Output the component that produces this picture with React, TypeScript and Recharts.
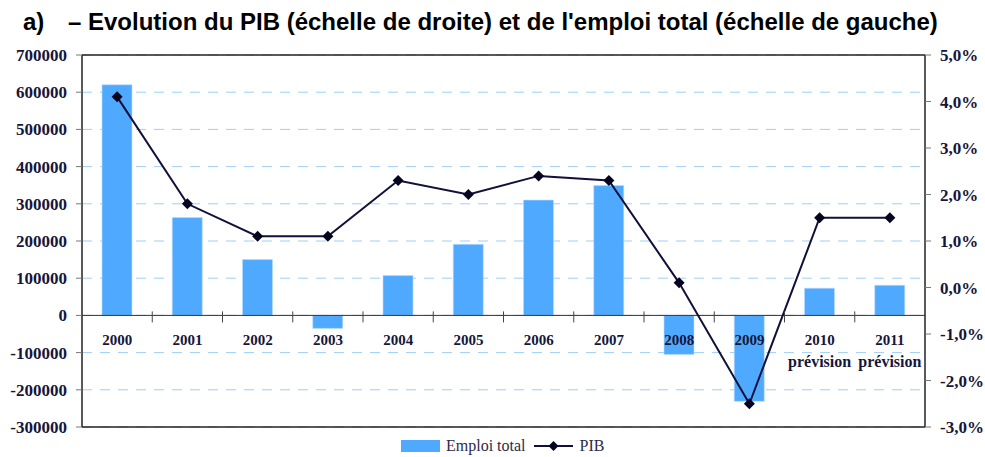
import React from "react"
import {
  ComposedChart,
  Bar,
  Line,
  XAxis,
  YAxis,
  CartesianGrid,
  ReferenceLine,
} from "recharts"

const years = ["2000", "2001", "2002", "2003", "2004", "2005", "2006", "2007", "2008", "2009", "2010", "2011"]
const emploiTotal = [620000, 263000, 150000, -35000, 107000, 191000, 310000, 349000, -105000, -231000, 73000, 81000]
const pib = [4.1, 1.8, 1.1, 1.1, 2.3, 2.0, 2.4, 2.3, 0.1, -2.5, 1.5, 1.5]
const forecastYears = ["2010", "2011"]
const leftTicks = [-300000, -200000, -100000, 0, 100000, 200000, 300000, 400000, 500000, 600000, 700000]
const rightTicks = [-3, -2, -1, 0, 1, 2, 3, 4, 5]

const data = years.map((year, i) => ({ year, emploi: emploiTotal[i], pib: pib[i] }))

const WIDTH = 985
const HEIGHT = 457
const PLOT_TOP = 55
const PLOT_LEFT = 82
const PLOT_RIGHT = 925
const PLOT_BOTTOM = 427
const BAND = (PLOT_RIGHT - PLOT_LEFT) / years.length
// y of the zero line, from the left axis domain
const ZERO_Y = PLOT_TOP + (PLOT_BOTTOM - PLOT_TOP) * (700000 / 1000000)

const INK = "#16163a"
const SERIF = "'Liberation Serif', 'Times New Roman', serif"

const YearTick = (props: any) => {
  const { x, payload, index } = props
  return (
    <g>
      {index > 0 && (
        <line x1={x - BAND / 2} x2={x - BAND / 2} y1={ZERO_Y - 4} y2={ZERO_Y + 7} stroke="#444" strokeWidth={1} />
      )}
      <text x={x} y={ZERO_Y + 30} textAnchor="middle" fontFamily={SERIF} fontWeight="bold" fontSize={15} fill={INK}>
        {payload.value}
      </text>
      {forecastYears.includes(payload.value) && (
        <text x={x} y={ZERO_Y + 52} textAnchor="middle" fontFamily={SERIF} fontWeight="bold" fontSize={16} fill={INK}>
          prévision
        </text>
      )}
    </g>
  )
}

const LeftTick = (props: any) => {
  const { x, y, payload } = props
  return (
    <text x={x} y={y} dy={6} textAnchor="end" fontFamily={SERIF} fontWeight="bold" fontSize={17} fill={INK}>
      {payload.value}
    </text>
  )
}

const RightTick = (props: any) => {
  const { x, y, payload } = props
  const label = `${Number(payload.value).toFixed(1).replace(".", ",")}%`
  return (
    <text x={x} y={y} dy={6} textAnchor="start" fontFamily={SERIF} fontWeight="bold" fontSize={17} fill={INK}>
      {label}
    </text>
  )
}

const Diamond = (props: any) => {
  const { cx, cy } = props
  if (cx == null || cy == null) return null
  const r = 5.5
  return (
    <polygon
      points={`${cx},${cy - r} ${cx + r},${cy} ${cx},${cy + r} ${cx - r},${cy}`}
      fill="#050520"
    />
  )
}

export default function App() {
  return (
    <div style={{ position: "absolute", left: 0, top: 0, width: WIDTH, height: HEIGHT, background: "#fff" }}>
      <div
        style={{
          position: "absolute",
          top: 8,
          left: 0,
          fontFamily: "'Liberation Sans', Arial, sans-serif",
          fontWeight: "bold",
          fontSize: 24,
          color: "#000",
          whiteSpace: "nowrap",
        }}
      >
        <span style={{ position: "absolute", left: 23 }}>a)</span>
        <span style={{ position: "absolute", left: 68 }}>
          – Evolution du PIB (échelle de droite) et de l'emploi total (échelle de gauche)
        </span>
      </div>

      <div style={{ position: "absolute", left: 0, top: 0 }}>
        <ComposedChart
          width={WIDTH}
          height={HEIGHT}
          data={data}
          margin={{ top: PLOT_TOP, right: 0, left: 0, bottom: 0 }}
          barSize={30}
        >
          <CartesianGrid vertical={false} stroke="#9fcff7" strokeDasharray="10 8" yAxisId="left" />
          <XAxis
            dataKey="year"
            height={HEIGHT - PLOT_BOTTOM}
            interval={0}
            axisLine={{ stroke: "#222", strokeWidth: 1.5 }}
            tickLine={false}
            tick={<YearTick />}
          />
          <YAxis
            yAxisId="left"
            width={PLOT_LEFT}
            domain={[-300000, 700000]}
            ticks={leftTicks}
            interval={0}
            axisLine={{ stroke: "#222", strokeWidth: 1.5 }}
            tickLine={{ stroke: "#777" }}
            tickSize={6}
            tickMargin={9}
            tick={<LeftTick />}
          />
          <YAxis
            yAxisId="right"
            orientation="right"
            width={WIDTH - PLOT_RIGHT}
            domain={[-3, 5]}
            ticks={rightTicks}
            interval={0}
            axisLine={{ stroke: "#222", strokeWidth: 1.5 }}
            tickLine={{ stroke: "#777" }}
            tickSize={6}
            tickMargin={9}
            tick={<RightTick />}
          />
          <Bar yAxisId="left" dataKey="emploi" name="Emploi total" fill="#4faaff" stroke="#b9dcff" strokeWidth={0.6} isAnimationActive={false} />
          <ReferenceLine yAxisId="left" y={0} stroke="#333" strokeWidth={1} />
          <ReferenceLine yAxisId="left" y={700000} stroke="#222" strokeWidth={1.5} />
          <Line
            yAxisId="right"
            type="linear"
            dataKey="pib"
            name="PIB"
            stroke="#10103a"
            strokeWidth={2}
            dot={<Diamond />}
            activeDot={false}
            isAnimationActive={false}
          />
        </ComposedChart>
      </div>

      <div
        style={{
          position: "absolute",
          top: 437,
          left: 401,
          display: "flex",
          alignItems: "center",
          fontFamily: SERIF,
          fontSize: 16,
          color: "#2a2a4a",
          whiteSpace: "nowrap",
        }}
      >
        <span style={{ display: "inline-block", width: 39, height: 12, background: "#4faaff", marginRight: 6 }} />
        <span>Emploi total</span>
        <svg width={42} height={14} style={{ marginLeft: 7, marginRight: 5 }}>
          <line x1={1} x2={40} y1={7} y2={7} stroke="#10103a" strokeWidth={2} />
          <polygon points="20.5,2 25.5,7 20.5,12 15.5,7" fill="#050520" />
        </svg>
        <span>PIB</span>
      </div>
    </div>
  )
}
